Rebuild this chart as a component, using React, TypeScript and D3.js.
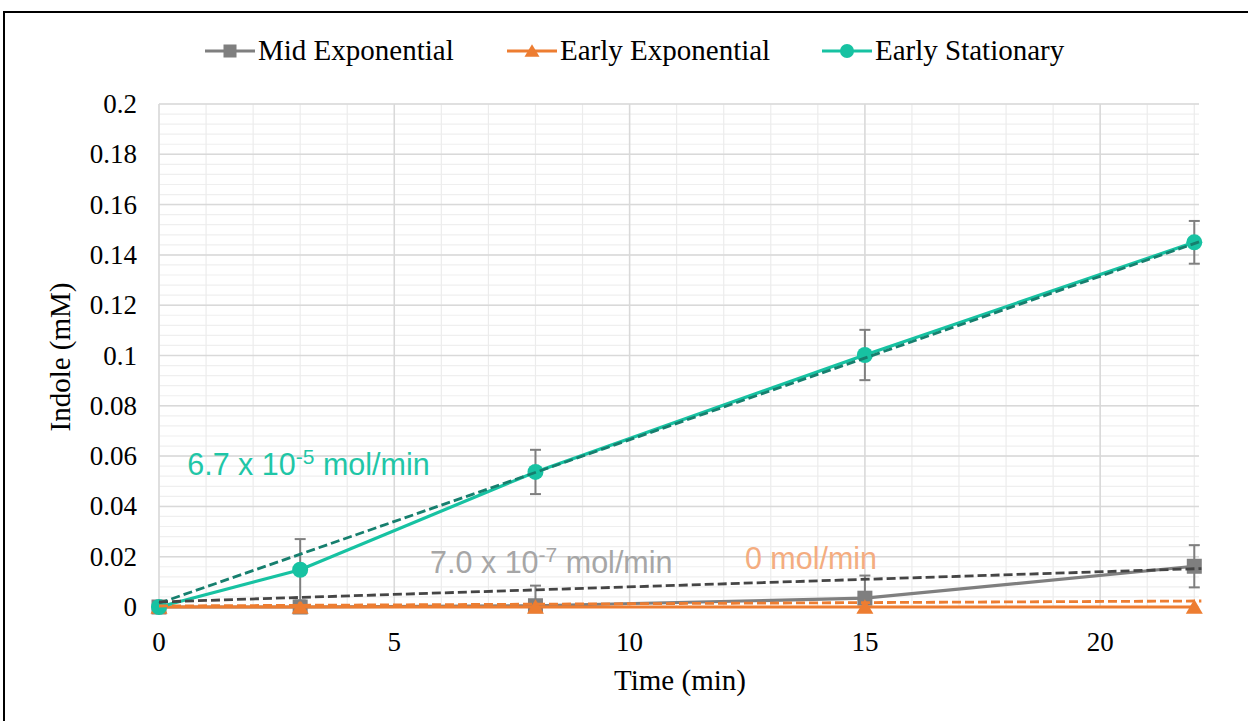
import React from 'react';
import * as d3 from 'd3';

const times = [0, 3, 8, 15, 22];
const seriesNames = ['Mid Exponential', 'Early Exponential', 'Early Stationary'];
const midExp = [0, 0, 0.0005, 0.0035, 0.0162];
const midExpErr = [0, 0, 0.008, 0.009, 0.0084];
const earlyExp = [0, 0, 0, 0, 0];
const earlyExpErr = [0, 0, 0, 0, 0];
const earlyStat = [0, 0.0148, 0.0537, 0.1002, 0.145];
const earlyStatErr = [0, 0.0122, 0.0088, 0.01, 0.0085];
const trendSlopes = [0.0006, 0.00009, 0.0065];
const trendIntercepts = [0.002, 0.0004, 0.0015];
const rateMain = ['7.0 x 10', '0 mol/min', '6.7 x 10'];
const rateExp = ['-7', '', '-5'];
const xTicks = [0, 5, 10, 15, 20];
const yTicks = [0, 0.02, 0.04, 0.06, 0.08, 0.1, 0.12, 0.14, 0.16, 0.18, 0.2];
const yTickLabels = ['0', '0.02', '0.04', '0.06', '0.08', '0.1', '0.12', '0.14', '0.16', '0.18', '0.2'];
const xTitle = 'Time (min)';
const yTitle = 'Indole (mM)';

const colors = ['#7f7f7f', '#ed7d31', '#17c2a2'];
const trendColors = ['#454545', '#ed7d31', '#167f6e'];
const textColors = ['#a6a6a6', '#f4ad80', '#1fc6a7'];
const markers = ['square', 'triangle', 'circle'];

const serif = '"Liberation Serif", "Times New Roman", serif';
const sans = '"Liberation Sans", Arial, sans-serif';

function Marker({ kind, x, y, color, size }: { kind: string; x: number; y: number; color: string; size: number }) {
  if (kind === 'square') return <rect x={x - size / 2} y={y - size / 2} width={size} height={size} fill={color} />;
  if (kind === 'circle') return <circle cx={x} cy={y} r={size / 2 + 0.5} fill={color} />;
  const h = size * 0.9;
  return <path d={`M${x},${y - h / 2 - 1}L${x + size / 2 + 1},${y + h / 2}L${x - size / 2 - 1},${y + h / 2}Z`} fill={color} />;
}

export default function App() {
  const x = d3.scaleLinear().domain([0, 22.1]).range([159, 1199]);
  const y = d3.scaleLinear().domain([0, 0.2]).range([607, 104]);
  const data = [midExp, earlyExp, earlyStat];
  const errs = [midExpErr, earlyExpErr, earlyStatErr];
  const line = d3.line<[number, number]>().x(d => x(d[0])).y(d => y(d[1]));

  const minorX = d3.range(0, 23, 1);
  const minorY = d3.range(0, 0.2001, 0.004);
  const [x0, x1] = x.range();

  const annPos = [
    { tx: 5.76, ty: 0.0135 },
    { tx: 12.45, ty: 0.0151 },
    { tx: 0.6, ty: 0.0525 },
  ];
  const legendPos = [205, 507, 822];

  return (
    <svg width={1248} height={721} style={{ position: 'absolute', left: 0, top: 0, background: '#fff' }}>
      <defs>
        <clipPath id="plotClip">
          <rect x={x0 - 20} y={y(0.2) - 20} width={x1 - x0 + 40} height={y(0) - y(0.2) + 20} />
        </clipPath>
      </defs>
      <rect x={0} y={0} width={1248} height={721} fill="#fff" />
      <rect x={4} y={12} width={1300} height={760} fill="none" stroke="#000" strokeWidth={2} />
      {/* grid */}
      <g>
        {minorY.map((v, i) => (
          <line key={'my' + i} x1={x0} x2={x1} y1={y(v)} y2={y(v)} stroke="#efefef" strokeWidth={1.2} />
        ))}
        {minorX.map(v => (
          <line key={'mx' + v} x1={x(v)} x2={x(v)} y1={y(0)} y2={y(0.2)} stroke="#ececec" strokeWidth={1.2} />
        ))}
        {yTicks.map(v => (
          <line key={'gy' + v} x1={x0} x2={x1} y1={y(v)} y2={y(v)} stroke="#d9d9d9" strokeWidth={1.5} />
        ))}
        {xTicks.map(v => (
          <line key={'gx' + v} x1={x(v)} x2={x(v)} y1={y(0)} y2={y(0.2)} stroke="#d9d9d9" strokeWidth={1.5} />
        ))}
      </g>
      {/* tick labels */}
      <g fontFamily={serif} fontSize={27} fill="#000">
        {yTicks.map((v, i) => (
          <text key={'yl' + v} x={137} y={y(v) + 9} textAnchor="end">{yTickLabels[i]}</text>
        ))}
        {xTicks.map(v => (
          <text key={'xl' + v} x={x(v)} y={651} textAnchor="middle">{v}</text>
        ))}
      </g>
      <text x={680} y={690} textAnchor="middle" fontFamily={serif} fontSize={29}>{xTitle}</text>
      <text transform={`translate(70,357) rotate(-90)`} textAnchor="middle" fontFamily={serif} fontSize={29}>{yTitle}</text>
      {/* series */}
      {data.map((vals, si) => {
        const pts = times.map((t, i) => [t, vals[i]] as [number, number]);
        return (
          <g key={'s' + si}>
            <path d={line(pts) || ''} fill="none" stroke={colors[si]} strokeWidth={3.2} />
            <g clipPath="url(#plotClip)">
              {times.map((t, i) =>
                errs[si][i] > 0 ? (
                  <g key={'e' + i} stroke="#7f7f7f" strokeWidth={2}>
                    <line x1={x(t)} x2={x(t)} y1={y(vals[i] + errs[si][i])} y2={y(vals[i] - errs[si][i])} />
                    <line x1={x(t) - 5.5} x2={x(t) + 5.5} y1={y(vals[i] + errs[si][i])} y2={y(vals[i] + errs[si][i])} />
                    <line x1={x(t) - 5.5} x2={x(t) + 5.5} y1={y(vals[i] - errs[si][i])} y2={y(vals[i] - errs[si][i])} />
                  </g>
                ) : null
              )}
            </g>
            {times.map((t, i) => (
              <Marker key={'m' + i} kind={markers[si]} x={x(t)} y={y(vals[i])} color={colors[si]} size={15} />
            ))}
          </g>
        );
      })}
      {/* trend lines */}
      {[2, 0, 1].map(si => {
        const pts: [number, number][] = [0, 22.15].map(t => [t, trendIntercepts[si] + trendSlopes[si] * t]);
        return (
          <path key={'t' + si} d={line(pts) || ''} fill="none" stroke={trendColors[si]} strokeWidth={2.8} strokeDasharray="9,4" />
        );
      })}
      {/* annotations */}
      {annPos.map((p, si) => (
        <text key={'a' + si} x={x(p.tx)} y={y(p.ty)} fontFamily={sans} fontSize={30.5} fill={textColors[si]}>
          {rateExp[si] ? (
            <>
              <tspan>{rateMain[si]}</tspan>
              <tspan dy={-11} fontSize={21}>{rateExp[si]}</tspan>
              <tspan dy={11}> mol/min</tspan>
            </>
          ) : (
            <tspan>{rateMain[si]}</tspan>
          )}
        </text>
      ))}
      {/* legend */}
      {seriesNames.map((n, si) => (
        <g key={'l' + si}>
          <line x1={legendPos[si]} x2={legendPos[si] + 50} y1={51} y2={51} stroke={colors[si]} strokeWidth={3.2} />
          <Marker kind={markers[si]} x={legendPos[si] + 25} y={51} color={colors[si]} size={13} />
          <text x={legendPos[si] + 53} y={60} fontFamily={serif} fontSize={29}>{n}</text>
        </g>
      ))}
    </svg>
  );
}
